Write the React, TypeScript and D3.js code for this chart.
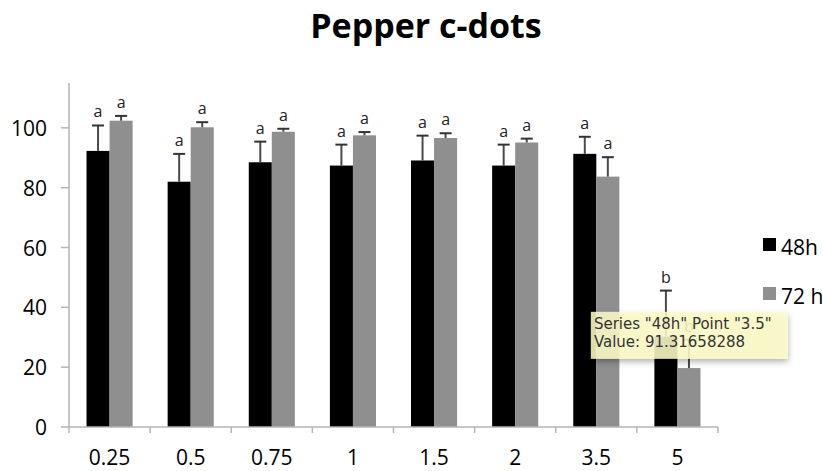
import React from "react";
import * as d3 from "d3";

const categories = ["0.25", "0.5", "0.75", "1", "1.5", "2", "3.5", "5"];
const seriesNames = ["48h", "72 h"];
const values48 = [92.3, 82.0, 88.5, 87.4, 89.1, 87.4, 91.31658288, 30.2];
const err48 = [8.5, 9.3, 6.9, 7.0, 8.3, 7.0, 5.7, 15.4];
const values72 = [102.4, 100.2, 98.7, 97.5, 96.6, 95.1, 83.7, 19.7];
const err72 = [1.6, 1.7, 1.0, 1.1, 1.6, 1.3, 6.5, 9.5];
const letters48 = ["a", "a", "a", "a", "a", "a", "a", "b"];
const letters72 = ["a", "a", "a", "a", "a", "a", "a", "b"];
const yTicks = [0, 20, 40, 60, 80, 100];
const tooltipLines = ['Series "48h" Point "3.5"', "Value: 91.31658288"];

const W = 823;
const H = 471;
const FONT = "'Open Sans', sans-serif";
const colors = ["#000000", "#8f8f8f"];

export default function App() {
  const x0 = d3.scaleBand<string>().domain(categories).range([69, 718]).paddingInner(0).paddingOuter(0);
  const x1 = d3.scaleBand<string>().domain(seriesNames).range([0, x0.bandwidth()]).paddingInner(0).paddingOuter(0.76);
  const y = d3.scaleLinear().domain([0, 115]).range([427, 83]);

  const series = [
    { name: seriesNames[0], values: values48, errs: err48, letters: letters48, color: colors[0] },
    { name: seriesNames[1], values: values72, errs: err72, letters: letters72, color: colors[1] },
  ];

  const axisColor = "#b5b5b5";
  const errColor = "#4a4a4a";
  const capHalf = 6;

  // tooltip anchored near category "5"
  const tipX = (x0("5") as number) - 46;
  const tipY = y(38.5);

  return (
    <svg width={W} height={H} style={{ position: "absolute", left: 0, top: 0, background: "#fff" }} fontFamily={FONT}>
      <defs>
        <filter id="shadow" x="-20%" y="-30%" width="140%" height="180%">
          <feDropShadow dx="0" dy="3" stdDeviation="3" floodColor="#000" floodOpacity="0.35" />
        </filter>
      </defs>
      <rect x={0} y={0} width={W} height={H} fill="#fff" />
      <text x={426} y={38} textAnchor="middle" fontSize={34} fontWeight={700} fill="#000">
        Pepper c-dots
      </text>

      {/* y axis */}
      <line x1={69} x2={69} y1={y(115)} y2={y(0) + 6} stroke={axisColor} strokeWidth={1.5} />
      {yTicks.map((t) => (
        <g key={t}>
          <line x1={61} x2={69} y1={y(t)} y2={y(t)} stroke={axisColor} strokeWidth={1.5} />
          <text x={47} y={y(t) + 8} textAnchor="end" fontSize={21} fill="#000">
            {t}
          </text>
        </g>
      ))}

      {/* bars */}
      {series.map((s) =>
        categories.map((c, i) => {
          const bx = (x0(c) as number) + (x1(s.name) as number);
          const bw = x1.bandwidth();
          const top = y(s.values[i]);
          const cx = bx + bw / 2;
          const ey = y(s.values[i] + s.errs[i]);
          return (
            <g key={s.name + c}>
              <rect x={bx} y={top} width={bw} height={y(0) - top} fill={s.color} />
              <line x1={cx} x2={cx} y1={top} y2={ey} stroke={errColor} strokeWidth={2} />
              <line x1={cx - capHalf} x2={cx + capHalf} y1={ey} y2={ey} stroke="#333" strokeWidth={2} />
              <text x={cx} y={ey - 8} textAnchor="middle" fontSize={16} fill="#222">
                {s.letters[i]}
              </text>
            </g>
          );
        })
      )}

      {/* x axis */}
      <line x1={69} x2={718} y1={y(0)} y2={y(0)} stroke={axisColor} strokeWidth={1.5} />
      {categories.map((c) => (
        <line key={"t" + c} x1={(x0(c) as number) + x0.bandwidth()} x2={(x0(c) as number) + x0.bandwidth()} y1={y(0)} y2={y(0) + 6} stroke={axisColor} strokeWidth={1.5} />
      ))}
      {categories.map((c) => (
        <text key={"l" + c} x={(x0(c) as number) + x0.bandwidth() / 2} y={465} textAnchor="middle" fontSize={21} fill="#000">
          {c}
        </text>
      ))}

      {/* legend */}
      {series.map((s, i) => (
        <g key={"lg" + s.name} transform={`translate(763, ${238 + i * 49})`}>
          <rect x={0} y={0} width={13} height={13} fill={s.color} />
          <text x={18} y={17} fontSize={21} fill="#000">
            {s.name}
          </text>
        </g>
      ))}

      {/* tooltip */}
      <g transform={`translate(${tipX}, ${tipY})`}>
        <rect x={0} y={0} width={197} height={47} fill="#fdfcc8" fillOpacity={0.86} filter="url(#shadow)" />
        {tooltipLines.map((t, i) => (
          <text key={t} x={3} y={17 + i * 18} fontSize={15} fill="#333" fontFamily="'DejaVu Sans', sans-serif">
            {t}
          </text>
        ))}
      </g>
    </svg>
  );
}
